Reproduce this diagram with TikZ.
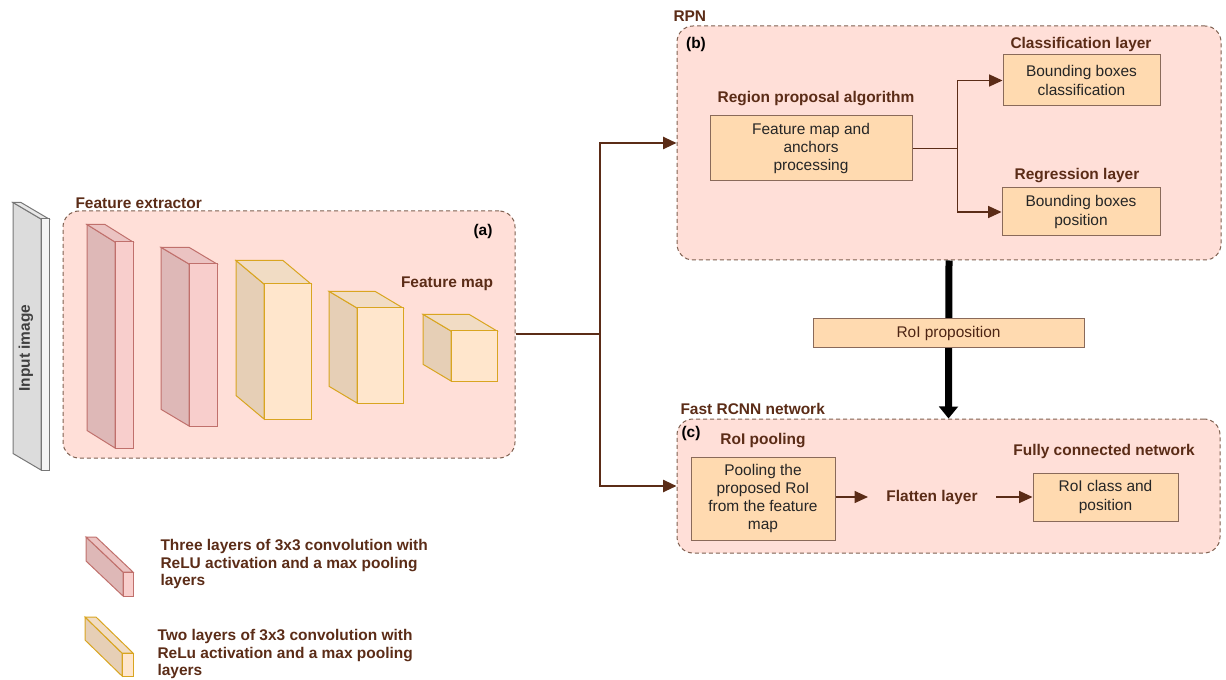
\documentclass[tikz,border=0pt]{standalone}
\usepackage{fontspec}
\setmainfont{Liberation Sans}
\usetikzlibrary{arrows.meta,fit}
\definecolor{brn}{HTML}{5B2C17}
\definecolor{panelfill}{HTML}{FFDFD8}
\definecolor{paneledge}{HTML}{7F6050}
\definecolor{boxfill}{HTML}{FFDAB0}
\definecolor{boxedge}{HTML}{8A6A5A}
\definecolor{pinkfront}{HTML}{F8CECC}
\definecolor{pinkside}{HTML}{DEB8B7}
\definecolor{pinktop}{HTML}{EBC3C2}
\definecolor{pinkedge}{HTML}{C0706C}
\definecolor{yellfront}{HTML}{FFE6CC}
\definecolor{yellside}{HTML}{E6CFB6}
\definecolor{yelltop}{HTML}{F1DCC4}
\definecolor{yelledge}{HTML}{D9A520}
\definecolor{greyfront}{HTML}{F5F5F5}
\definecolor{greyside}{HTML}{DCDCDC}
\definecolor{greytop}{HTML}{E8E8E8}
\definecolor{greyedge}{HTML}{777777}

\newcommand{\layerbox}[7]{%
  \draw[draw=#1edge, fill=#1side] (#2-#6,#3-#7) -- (#2,#3) -- (#2,#5) -- (#2-#6,#5-#7) -- cycle;
  \draw[draw=#1edge, fill=#1top] (#2-#6,#3-#7) -- (#4-#6,#3-#7) -- (#4,#3) -- (#2,#3) -- cycle;
  \draw[draw=#1edge, fill=#1front] (#2,#3) rectangle (#4,#5);
}

\begin{document}
\begin{tikzpicture}[x=0.75pt, y=-0.75pt, line width=0.75pt,
    font=\fontsize{11.6}{13.6}\selectfont,
    panel/.style={draw=paneledge, fill=panelfill, dash pattern=on 3pt off 2.25pt, rounded corners=12pt, inner sep=0pt},
    box/.style 2 args={draw=boxedge, fill=boxfill, inner sep=0pt, align=center, text=black!85,
      minimum width=#1*0.75pt, minimum height=#2*0.75pt},
    lbl/.style={text=brn, font=\fontsize{11.6}{13.6}\selectfont\bfseries, inner sep=0pt},
    plabel/.style={font=\fontsize{11.6}{13.6}\selectfont\bfseries, inner sep=0pt},
    conn/.style={draw=brn, line width=1.5pt},
    link/.style={draw=brn, line width=0.9pt},
    arr/.style={-{Triangle[length=10pt,width=9pt]}}]
    \useasboundingbox (0,0) rectangle (1226,680);

    \node[panel, fit={(63,211) (515,458)}] (fe) {};
    \node[panel, fit={(677,26) (1221,260)}] (rpn) {};
    \node[panel, fit={(677,419) (1220,553)}] (frcnn) {};

    \node[lbl, anchor=west] (felbl) at (75,203) {Feature extractor};
    \node[lbl, anchor=west] (rpnlbl) at (673,16) {RPN};
    \node[lbl, anchor=west] (frcnnlbl) at (680,409) {Fast RCNN network};
    \node[plabel] (a) at (483,232) {(a)};
    \node[plabel] (b) at (696,45) {(b)};
    \node[plabel] (c) at (691,434) {(c)};

    \layerbox{grey}{41}{219}{49}{470}{28}{16.5}
    \node[plabel, rotate=90, text=black!75] (inimg) at (26,348) {Input image};

    \layerbox{pink}{115}{242}{133}{448}{28}{17.5}
    \layerbox{pink}{189}{264}{217}{426}{28}{16.7}
    \layerbox{yell}{264}{284}{311}{419}{28}{23.5}
    \layerbox{yell}{357}{308}{403}{403}{28}{16.7}
    \layerbox{yell}{451}{331}{497}{381}{28}{16.7}
    \node[lbl] (fmlbl) at (447,284) {Feature map};

    \node[lbl] (rpalbl) at (816,99) {Region proposal algorithm};
    \node[box={202}{65}] (fmap) at (811,148.5) {Feature map and\\anchors\\processing};
    \node[lbl] (clslbl) at (1081,45) {Classification layer};
    \node[box={157}{51}] (cls) at (1081.5,80.5) {Bounding boxes\\classification};
    \node[lbl] (reglbl) at (1077,176) {Regression layer};
    \node[box={158}{48}] (reg) at (1081,212) {Bounding boxes\\position};
    \draw[link] (fmap.east) -- ++(45,0) coordinate (fork);
    \draw[link, arr] (fork) |- (cls.west);
    \draw[link, arr] (fork) |- (reg.west);

    \draw[line width=5.25pt, -{Triangle[length=9pt,width=14pt]}] (rpn.south) -- (frcnn.north);
    \node[box={271}{29}, text=brn!85!black] (roi) at (948.5,333.5) {RoI proposition};

    \node[lbl] (poollbl) at (763,441) {RoI pooling};
    \node[box={144}{83}] (pool) at (763,498.5) {Pooling the\\proposed RoI\\from the feature\\map};
    \node[lbl, inner xsep=13.5pt] (flat) at (932,497) {Flatten layer};
    \node[lbl] (fclbl) at (1104,451) {Fully connected network};
    \node[box={145}{48}] (fc) at (1105.5,497) {RoI class and\\position};
    \draw[link, arr] (pool.east |- flat) -- (flat.west);
    \draw[link, arr] (flat.east) -- (fc.west |- flat);

    \draw[conn] (fe.east) -- ++(84,0) coordinate (split);
    \draw[conn, arr] (split) |- (rpn.west);
    \draw[conn, arr] (split) |- (frcnn.west);

    \layerbox{pink}{123}{572}{133}{596}{37}{35}
    \node[lbl, align=left, anchor=west, font=\fontsize{11.6}{13.1}\selectfont\bfseries] (leg1) at (160,564) {Three layers of 3x3 convolution with\\ReLU activation and a max pooling\\layers};
    \layerbox{yell}{122}{653}{133}{676}{37}{36}
    \node[lbl, align=left, anchor=west, font=\fontsize{11.6}{13.1}\selectfont\bfseries] (leg2) at (157,654) {Two layers of 3x3 convolution with\\ReLu activation and a max pooling\\layers};
\end{tikzpicture}
\end{document}
